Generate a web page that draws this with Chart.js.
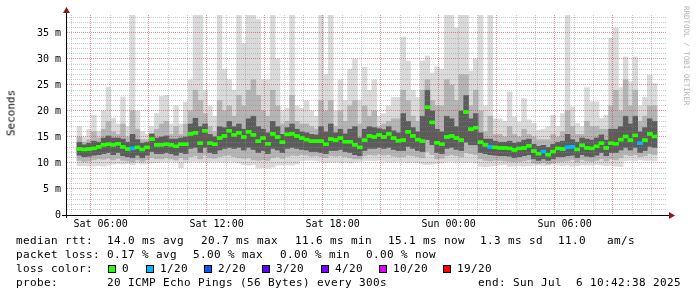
<!DOCTYPE html>
<html>
<head>
<meta charset="utf-8">
<script src="https://cdn.jsdelivr.net/npm/chart.js@4.4.1/dist/chart.umd.min.js"></script>
<style>
  body { margin: 0; background: #fff }
  #wrap { position: relative; width: 697px; height: 297px; overflow: hidden; font-family: 'DejaVu Sans Mono', monospace }
  #c { position: absolute; left: 0; top: 0 }
  .t { position: absolute; white-space: pre; font-size: 11px; line-height: 14px; letter-spacing: 0.38px; color: #000 }
  .box { position: absolute; top: 265px; width: 6px; height: 6px; border: 1px solid #000 }
  #ylab { position: absolute; left: 11px; top: 113px; transform: translate(-50%, -50%) rotate(-90deg); font-size: 11px; white-space: pre; color: #000 }
  #credit { position: absolute; left: 682px; top: 6px; writing-mode: vertical-rl; font-size: 7.5px; color: #b4b4b4; white-space: pre }
</style>
</head>
<body>
<div id="wrap">
  <canvas id="c" width="697" height="297"></canvas>
  <div id="ylab">Seconds</div>
  <div id="credit">RRDTOOL / TOBI OETIKER</div>

  <div class="t" style="left:16px;top:234px">median rtt:</div>
  <div class="t" style="left:107px;top:234px">14.0 ms avg</div>
  <div class="t" style="left:201px;top:234px">20.7 ms max</div>
  <div class="t" style="left:295px;top:234px">11.6 ms min</div>
  <div class="t" style="left:388px;top:234px">15.1 ms now</div>
  <div class="t" style="left:480px;top:234px">1.3 ms sd</div>
  <div class="t" style="left:558px;top:234px">11.0</div>
  <div class="t" style="left:607px;top:234px">am/s</div>

  <div class="t" style="left:16px;top:248px">packet loss:</div>
  <div class="t" style="left:107px;top:248px">0.17 % avg</div>
  <div class="t" style="left:193px;top:248px">5.00 % max</div>
  <div class="t" style="left:280px;top:248px">0.00 % min</div>
  <div class="t" style="left:366px;top:248px">0.00 % now</div>

  <div class="t" style="left:16px;top:262px">loss color:</div>
  <div id="lossLegend"></div>

  <div class="t" style="left:16px;top:276px">probe:</div>
  <div class="t" style="left:107px;top:276px">20 ICMP Echo Pings (56 Bytes) every 300s</div>
  <div class="t" style="right:16px;top:276px">end: Sun Jul  6 10:42:38 2025</div>
</div>

<script>
// ── Данные (часы от Sat 00:00, шаг 15 мин) ───────────────
const START_H = 4.78
const STEP_H  = 0.25
const SPAN_H  = 30

// медиана RTT, ms
const MED = [
  12.7, 12.6, 12.7, 12.8, 13.1, 13.5, 13.6, 13.5, 13.7, 13.1,
  12.7, 12.8, 13.0, 12.6, 13.0, 14.6, 13.5, 13.5, 13.6, 13.5,
  13.2, 13.6, 13.6, 15.6, 15.8, 13.8, 16.2, 13.8, 13.6, 14.8,
  15.2, 16.2, 15.4, 15.8, 15.0, 16.0, 15.4, 14.2, 14.8, 13.7,
  15.6, 15.0, 14.0, 15.5, 15.6, 15.2, 14.8, 14.5, 14.2, 14.2,
  14.2, 13.6, 14.6, 14.4, 14.8, 14.1, 14.1, 13.5, 13.0, 14.4,
  15.2, 15.0, 15.4, 15.0, 15.6, 14.8, 14.3, 14.4, 16.0, 15.2,
  14.5, 14.2, 20.7, 17.8, 13.9, 13.6, 15.0, 15.2, 14.8, 14.4,
  19.8, 16.5, 16.8, 14.0, 13.5, 13.1, 13.0, 12.9, 12.9, 12.8,
  12.5, 12.8, 12.9, 13.3, 12.3, 11.8, 12.2, 11.6, 12.2, 12.8,
  12.7, 13.0, 13.1, 12.6, 13.4, 12.9, 12.8, 13.2, 13.8, 12.9,
  13.8, 13.7, 14.5, 15.1, 14.4, 15.3, 13.8, 14.4, 15.6, 15.1
]

// потери (из 20 пингов)
const LOSS = [
  0, 0, 0, 0, 0, 0, 0, 0, 0, 0,
  0, 1, 0, 0, 0, 0, 0, 0, 0, 0,
  0, 0, 0, 0, 0, 0, 0, 0, 0, 0,
  0, 0, 0, 0, 0, 0, 0, 0, 0, 0,
  0, 0, 0, 0, 0, 0, 0, 0, 0, 0,
  0, 0, 0, 0, 0, 0, 0, 0, 0, 0,
  0, 0, 0, 0, 0, 0, 0, 0, 0, 0,
  0, 0, 0, 0, 0, 0, 0, 0, 0, 0,
  0, 0, 0, 0, 0, 1, 0, 0, 0, 0,
  0, 0, 0, 0, 0, 0, 1, 0, 0, 0,
  0, 1, 1, 0, 0, 0, 0, 0, 0, 0,
  0, 0, 0, 0, 0, 0, 1, 0, 0, 0
]

// "дым": самый быстрый / самый медленный пинг
const MIN = [
  9.5, 9.5, 9.4, 9.4, 9.5, 9.4, 9.6, 9.8, 9.9, 9.8,
  9.9, 9.7, 10.0, 9.8, 9.9, 10.0, 10.1, 10.2, 10.2, 10.3,
  10.2, 9.1, 10.1, 10.2, 10.3, 10.2, 10.2, 10.2, 10.3, 10.2,
  10.2, 10.3, 10.2, 10.0, 9.7, 9.6, 9.7, 9.0, 9.1, 9.0,
  9.2, 9.6, 9.6, 9.7, 9.6, 9.8, 10.4, 10.5, 10.5, 10.4,
  10.3, 10.1, 10.2, 10.2, 10.1, 10.2, 10.0, 10.2, 10.3, 10.4,
  10.5, 10.4, 10.5, 10.3, 10.2, 10.2, 10.3, 10.2, 10.1, 10.2,
  10.1, 9.8, 9.7, 9.8, 9.9, 10.0, 10.2, 10.3, 10.2, 10.2,
  10.1, 10.2, 10.0, 9.4, 9.3, 9.4, 9.5, 9.6, 9.7, 9.4,
  9.4, 9.5, 9.4, 9.5, 9.6, 9.6, 9.5, 9.6, 9.7, 9.6,
  9.5, 9.6, 9.4, 9.5, 9.6, 9.6, 9.6, 9.7, 9.6, 9.5,
  9.6, 9.4, 9.3, 10.4, 10.5, 10.4, 10.6, 10.5, 10.5, 10.4
]
const MAX = [
  17.0, 15.0, 16.5, 19.2, 16.0, 20.0, 24.6, 18.6, 17.5, 22.7,
  17.0, 38.5, 20.0, 16.0, 15.5, 17.0, 19.5, 22.8, 23.0, 17.5,
  21.0, 17.5, 21.7, 26.0, 38.5, 38.5, 24.0, 21.0, 19.0, 38.5,
  28.0, 26.0, 24.0, 38.5, 33.0, 38.5, 38.5, 37.6, 26.0, 26.0,
  38.5, 30.0, 20.0, 20.5, 38.5, 21.0, 20.5, 22.0, 20.0, 19.0,
  38.5, 27.0, 38.5, 20.0, 26.0, 22.0, 28.0, 30.0, 22.0, 28.4,
  24.0, 26.0, 19.0, 19.5, 21.0, 22.6, 22.6, 34.2, 29.6, 24.0,
  22.6, 29.6, 30.6, 27.3, 28.5, 28.0, 38.5, 38.5, 36.0, 38.5,
  38.5, 27.7, 30.0, 38.5, 21.0, 38.5, 18.5, 18.5, 18.0, 23.7,
  18.9, 17.9, 22.4, 18.3, 17.6, 16.3, 16.5, 17.0, 19.2, 17.0,
  19.5, 38.5, 20.8, 17.6, 17.0, 24.5, 21.8, 21.8, 18.6, 19.2,
  34.0, 35.9, 24.5, 30.4, 25.6, 30.4, 21.0, 22.6, 26.9, 25.3
]

// средняя полоса дыма
const LO2 = [
  10.5, 10.3, 10.4, 10.6, 10.8, 10.7, 10.9, 10.6, 10.9, 10.5,
  10.4, 10.2, 10.6, 10.3, 10.6, 11.0, 10.8, 10.8, 11.0, 10.8,
  10.6, 11.0, 10.6, 11.2, 11.4, 10.8, 11.5, 11.0, 10.9, 11.2,
  11.4, 11.5, 11.2, 11.0, 10.9, 11.0, 10.6, 10.5, 10.6, 10.5,
  11.0, 11.2, 10.9, 11.3, 11.5, 11.4, 11.6, 11.5, 11.3, 11.4,
  11.2, 11.0, 11.4, 11.3, 11.4, 11.2, 11.0, 10.8, 10.8, 11.4,
  11.6, 11.5, 11.7, 11.5, 11.6, 11.3, 11.2, 11.2, 11.5, 11.4,
  11.2, 11.0, 12.2, 11.6, 10.8, 10.9, 11.4, 11.6, 11.4, 11.2,
  12.0, 11.8, 11.6, 10.8, 10.5, 10.4, 10.5, 10.5, 10.4, 10.3,
  10.2, 10.3, 10.4, 10.6, 10.0, 9.9, 10.1, 9.8, 10.0, 10.3,
  10.3, 10.4, 10.6, 10.2, 10.6, 10.4, 10.3, 10.5, 10.8, 10.4,
  10.8, 10.6, 11.0, 11.6, 11.4, 11.6, 11.2, 11.4, 11.8, 11.6
]
const HI2 = [
  15.0, 14.0, 14.5, 16.0, 14.8, 16.5, 18.0, 16.0, 15.5, 17.5,
  15.0, 20.0, 16.5, 14.5, 14.5, 15.5, 16.5, 17.5, 18.0, 15.5,
  17.0, 15.5, 17.5, 20.0, 24.0, 22.0, 19.5, 17.0, 16.0, 22.0,
  20.0, 21.0, 19.0, 23.0, 21.0, 24.0, 26.0, 23.0, 20.0, 19.0,
  24.0, 21.0, 17.5, 18.0, 23.0, 18.0, 17.5, 17.5, 17.0, 16.5,
  22.0, 20.0, 22.0, 17.0, 20.0, 18.0, 21.0, 22.0, 17.5, 21.0,
  19.0, 20.0, 17.0, 17.5, 18.0, 18.5, 18.5, 24.0, 22.0, 19.0,
  18.0, 24.0, 26.0, 22.0, 21.0, 21.0, 26.0, 25.0, 22.0, 27.0,
  27.0, 21.0, 24.0, 20.0, 16.0, 19.0, 15.5, 15.5, 15.0, 17.0,
  15.5, 15.0, 16.5, 15.5, 15.0, 14.5, 14.5, 14.5, 15.5, 15.0,
  16.0, 20.0, 17.0, 15.5, 15.5, 18.0, 17.0, 17.0, 16.5, 16.5,
  21.0, 24.0, 20.0, 26.0, 21.0, 24.0, 18.0, 19.0, 21.0, 21.0
]

// плотное ядро дыма
const LO1 = [
  11.5, 11.2, 11.3, 11.5, 11.6, 11.8, 12.0, 11.6, 12.0, 11.4,
  11.2, 11.0, 11.5, 11.0, 11.5, 12.2, 11.8, 11.8, 12.0, 11.8,
  11.5, 12.0, 11.8, 12.8, 13.0, 12.0, 13.0, 12.0, 11.8, 12.5,
  12.8, 13.0, 12.8, 13.0, 12.5, 13.0, 12.6, 12.0, 12.4, 11.8,
  12.8, 12.5, 12.0, 12.8, 13.0, 12.8, 12.6, 12.5, 12.2, 12.2,
  12.0, 11.8, 12.4, 12.4, 12.6, 12.2, 12.0, 11.6, 11.4, 12.4,
  12.8, 12.8, 13.0, 12.8, 13.0, 12.6, 12.4, 12.4, 13.2, 12.8,
  12.4, 12.2, 14.5, 13.5, 12.0, 11.8, 12.8, 13.0, 12.6, 12.4,
  14.0, 13.5, 13.5, 12.0, 11.8, 11.6, 11.5, 11.4, 11.4, 11.3,
  11.0, 11.2, 11.4, 11.6, 10.8, 10.5, 10.8, 10.5, 10.8, 11.2,
  11.2, 11.4, 11.5, 11.0, 11.6, 11.3, 11.2, 11.5, 12.0, 11.4,
  12.0, 12.0, 12.5, 13.0, 12.5, 13.0, 12.0, 12.4, 13.2, 13.0
]
const HI1 = [
  14.0, 13.5, 13.8, 14.2, 14.0, 14.8, 15.2, 14.8, 14.8, 14.6,
  14.0, 15.5, 14.5, 13.8, 14.0, 15.6, 14.8, 15.0, 15.2, 14.6,
  14.6, 14.8, 15.0, 17.5, 18.6, 17.0, 17.5, 15.5, 15.0, 17.0,
  16.8, 18.0, 17.0, 17.5, 16.5, 18.5, 19.0, 17.0, 16.5, 15.8,
  18.0, 17.0, 15.5, 16.8, 17.5, 16.5, 16.0, 15.8, 15.5, 15.4,
  17.0, 16.0, 17.5, 15.8, 16.5, 15.6, 16.5, 17.0, 14.8, 16.5,
  17.0, 16.8, 16.6, 16.4, 17.0, 16.2, 15.8, 19.5, 18.0, 16.8,
  16.0, 19.0, 24.0, 20.0, 16.5, 16.0, 19.0, 18.5, 17.0, 20.0,
  23.0, 18.5, 19.5, 15.8, 14.6, 14.6, 14.2, 14.0, 14.0, 14.2,
  13.8, 14.0, 14.4, 14.6, 13.6, 13.2, 13.4, 13.0, 13.6, 14.0,
  14.2, 15.5, 14.5, 14.0, 14.8, 14.6, 14.4, 14.8, 15.4, 14.4,
  16.5, 16.5, 17.0, 19.0, 17.5, 19.0, 16.0, 16.8, 18.5, 18.0
]

const Y_MAX   = 38.46
const LOSS_LABELS = ['0', '1/20', '2/20', '3/20', '4/20', '10/20', '19/20']
const LOSS_COLORS = ['#26ff00', '#00b8ff', '#0059ff', '#5e00ff', '#7e00ff', '#dd00ff', '#ff0000']

// ── Легенда цветов потерь ────────────────────────────────
const boxLeft = [108, 146, 204, 262, 321, 379, 443]
document.getElementById('lossLegend').innerHTML = LOSS_LABELS.map((l, i) => `
  <div class="box" style="left:${boxLeft[i]}px;background:${LOSS_COLORS[i]}"></div>
  <div class="t" style="left:${boxLeft[i] + 14}px;top:262px">${l}</div>`).join('')

// ── График ───────────────────────────────────────────────
const MED_HALF = 0.26
const xs   = MED.map((_, i) => START_H + STEP_H * (i + 0.5))
const band = (lo, hi) => xs.map((x, i) => ({ x, y: [lo[i], hi[i]] }))
const lossIdx = n => n >= 19 ? 6 : n >= 10 ? 5 : Math.min(n, 4)

const barBase = { type: 'bar', grouped: false, barPercentage: 1, categoryPercentage: 1, borderWidth: 0 }

const GRID_MINOR = 'rgba(140,140,140,0.45)'
const GRID_MAJOR = 'rgba(200,70,70,0.6)'
const tickFont = { family: 'DejaVu Sans Mono', size: 10 }

const axesPlugin = {
  id: 'axes',
  afterDraw(chart) {
    const { ctx, chartArea: a } = chart
    // медиану поверх сетки
    ctx.save()
    ctx.beginPath(); ctx.rect(a.left, a.top, a.right - a.left, a.bottom - a.top); ctx.clip()
    chart.getDatasetMeta(0).controller.draw()
    ctx.restore()

    ctx.save()
    ctx.strokeStyle = '#000'; ctx.lineWidth = 1
    ctx.beginPath()
    ctx.moveTo(62, a.bottom + 0.5); ctx.lineTo(a.right + 3, a.bottom + 0.5)
    ctx.moveTo(a.left - 0.5, a.bottom + 3); ctx.lineTo(a.left - 0.5, a.top - 3)
    ctx.stroke()
    ctx.fillStyle = '#8b1a1a'
    ctx.beginPath()
    ctx.moveTo(a.right + 2, a.bottom - 3); ctx.lineTo(a.right + 8, a.bottom + 0.5); ctx.lineTo(a.right + 2, a.bottom + 4)
    ctx.closePath(); ctx.fill()
    ctx.beginPath()
    ctx.moveTo(a.left - 4, a.top - 2); ctx.lineTo(a.left - 0.5, a.top - 8); ctx.lineTo(a.left + 3, a.top - 2)
    ctx.closePath(); ctx.fill()
    ctx.restore()
  }
}

new Chart(document.getElementById('c'), {
  data: {
    datasets: [
      { ...barBase, data: xs.map((x, i) => ({ x, y: [MED[i] - MED_HALF, MED[i] + MED_HALF] })),
        backgroundColor: LOSS.map(n => LOSS_COLORS[lossIdx(n)]) },
      { ...barBase, data: band(LO1, HI1), backgroundColor: '#5c5c5c' },
      { ...barBase, data: band(LO2, HI2), backgroundColor: '#b4b4b4' },
      { ...barBase, data: band(MIN, MAX), backgroundColor: '#dadada' }
    ]
  },
  options: {
    responsive: false, animation: false, devicePixelRatio: 1, events: [],
    layout: { padding: { left: 0, top: 15, right: 30, bottom: 62 } },
    plugins: { legend: { display: false }, tooltip: { enabled: false } },
    scales: {
      x: {
        type: 'linear', min: START_H, max: START_H + SPAN_H,
        afterFit: s => { s.height = 20 },
        afterBuildTicks: s => {
          const t = []
          for (let h = Math.ceil(s.min); h <= Math.floor(s.max); h++) t.push({ value: h })
          s.ticks = t
        },
        grid: { color: c => c.tick && c.tick.value % 3 === 0 ? GRID_MAJOR : GRID_MINOR, drawTicks: false, z: 1 },
        border: { display: false, dash: [1, 1] },
        ticks: {
          font: tickFont, color: '#000', padding: 3, maxRotation: 0, autoSkip: false,
          callback: v => v % 6 === 0 ? (v < 24 ? 'Sat ' : 'Sun ') + String(v % 24).padStart(2, '0') + ':00' : ''
        }
      },
      y: {
        min: 0, max: Y_MAX,
        afterFit: s => { s.width = 67 },
        afterBuildTicks: s => {
          const t = []
          for (let v = 0; v <= Math.floor(s.max); v++) t.push({ value: v })
          s.ticks = t
        },
        grid: { color: c => c.tick && c.tick.value % 5 === 0 ? GRID_MAJOR : GRID_MINOR, drawTicks: false, z: 1 },
        border: { display: false, dash: [1, 1] },
        ticks: {
          font: tickFont, color: '#000', padding: 6, autoSkip: false,
          callback: v => v % 5 === 0 ? (v === 0 ? '0' : v + ' m') : ''
        }
      }
    }
  },
  plugins: [axesPlugin]
})
</script>
</body>
</html>
